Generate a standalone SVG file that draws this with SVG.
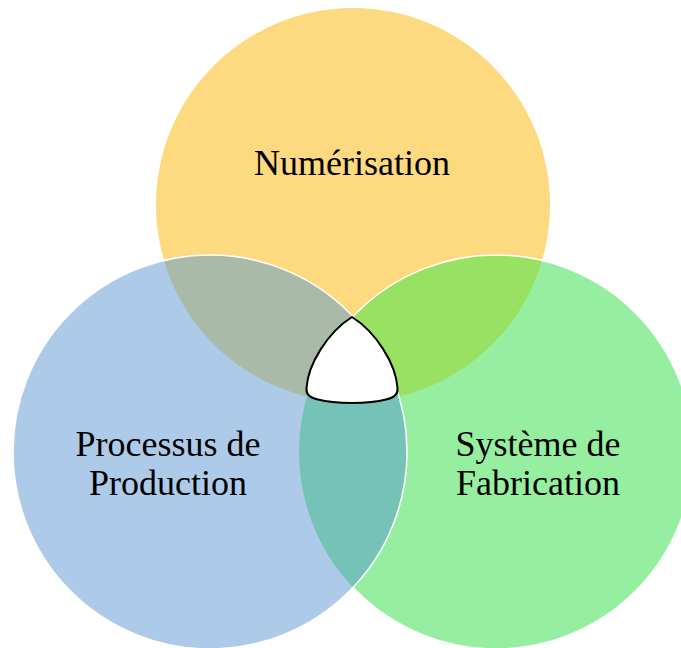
<svg xmlns="http://www.w3.org/2000/svg" width="681" height="648" viewBox="0 0 681 648">
<style>
.lbl{font-family:"Liberation Serif","Times New Roman",serif;font-size:36px;fill:#000;text-anchor:middle}
</style>
<defs>
<clipPath id="cT"><circle cx="353" cy="205" r="197"/></clipPath>
<clipPath id="cL"><circle cx="210" cy="452" r="197"/></clipPath>
<clipPath id="outL"><path clip-rule="evenodd" d="M-10 -10H700V660H-10Z M13 452a197 197 0 1 0 394 0a197 197 0 1 0 -394 0Z"/></clipPath>
</defs>
<rect width="681" height="648" fill="#fff"/>
<g id="numerisation">
<circle cx="353" cy="205" r="197" fill="#FDD97F"/>
</g>
<g id="systeme">
<circle cx="496" cy="452" r="197" fill="#96EFA0"/>
</g>
<g id="processus">
<circle cx="210" cy="452" r="197" fill="#ADCBE8"/>
</g>
<g id="overlaps">
<g clip-path="url(#cT)"><circle cx="210" cy="452" r="197" fill="#A9BBA8"/></g>
<g clip-path="url(#cT)"><circle cx="496" cy="452" r="197" fill="#98E162"/></g>
<g clip-path="url(#cL)"><circle cx="496" cy="452" r="197" fill="#75C3B7"/></g>
<g clip-path="url(#outL)"><circle cx="496" cy="452" r="197" fill="none" stroke="#fff" stroke-width="1.5"/></g>
<circle cx="210" cy="452" r="197" fill="none" stroke="#fff" stroke-width="1.5"/>
</g>
<g id="center">
<path d="M352 317C328 332 308 364 306.5 388Q305.5 397 318 399.5C335 404 369 404 386 399.5Q398.5 397 397.5 388C396 364 376 332 352 317Z" fill="#fff" stroke="#000" stroke-width="2" stroke-linejoin="round"/>
</g>
<g id="labels">
<text class="lbl" x="352" y="175">Numérisation</text>
<text class="lbl" x="168" y="456">Processus de</text>
<text class="lbl" x="168" y="495">Production</text>
<text class="lbl" x="538" y="456">Système de</text>
<text class="lbl" x="538" y="495">Fabrication</text>
</g>
</svg>
